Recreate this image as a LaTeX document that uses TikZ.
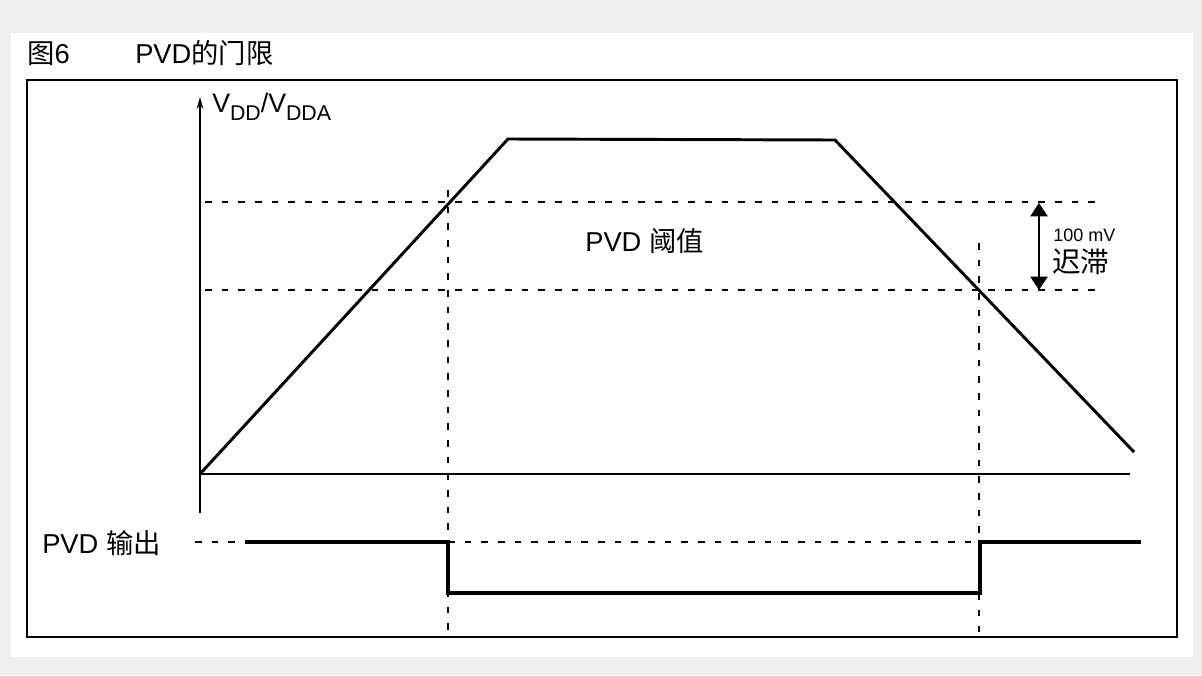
\documentclass[tikz,border=0pt]{standalone}
\usepackage{fontspec}
\setmainfont{Liberation Sans}
\newfontfamily\cjk{Noto Sans CJK SC}
\usetikzlibrary{arrows.meta}
\definecolor{bggray}{HTML}{EFEFEF}
\tikzset{
  lbl/.style={anchor=base west, inner sep=0pt, text=black},
  axisline/.style={line width=1.1pt, black},
  wave/.style={line width=2.2pt, black, line join=miter},
  outwave/.style={line width=3pt, black, line join=miter},
  guide/.style={line width=1pt, black, dash pattern=on 5pt off 7.5pt},
  frameline/.style={line width=1.1pt, black},
}
\begin{document}
\begin{tikzpicture}[x=0.75pt,y=-0.75pt]
\useasboundingbox (0,0) rectangle (1202,675);
\fill[bggray] (0,0) rectangle (1202,675);
\fill[white] (11,33) rectangle (1193,657);
% frame
\draw[frameline] (27,80) rectangle (1177,637);
% title
\node[lbl, font=\fontsize{20.5pt}{22pt}\selectfont] (t1) at (27,63) {{\cjk 图}6};
\node[lbl, font=\fontsize{20.5pt}{22pt}\selectfont] (t2) at (135,63) {PVD{\cjk 的门限}};
% axes
\coordinate (o) at (200,474);
\coordinate (ybot) at (200,513);
\coordinate (ytop) at (200,97);
\coordinate (xend) at (1130,474);
\draw[axisline, -{Stealth[length=9pt,width=5pt]}] (ybot) -- (ytop);
\draw[axisline] (o) -- (xend);
\node[lbl, font=\fontsize{20pt}{22pt}\selectfont] (vlab) at (212,112)
  {V\raisebox{-0.3em}{\fontsize{16pt}{18pt}\selectfont DD}/V\raisebox{-0.3em}{\fontsize{16pt}{18pt}\selectfont DDA}};
% thresholds
\coordinate (h1a) at (205,202); \coordinate (h1b) at (1100,202);
\coordinate (h2a) at (205,290); \coordinate (h2b) at (1100,290);
\draw[guide] (h1a) -- (h1b);
\draw[guide] (h2a) -- (h2b);
\coordinate (v1a) at (448,190); \coordinate (v1b) at (448,632);
\coordinate (v2a) at (979,243); \coordinate (v2b) at (979,632);
\draw[guide] (v1a) -- (v1b);
\draw[guide] (v2a) -- (v2b);
% supply waveform
\coordinate (p1) at (508,139);
\coordinate (p2) at (835,140);
\coordinate (p3) at (1134,452);
\draw[wave] (o) -- (p1) -- (p2) -- (p3);
\node[lbl, font=\fontsize{20.5pt}{22pt}\selectfont] (thr) at (585,251) {PVD {\cjk 阈值}};
% hysteresis
\coordinate (ha) at (1039,290); \coordinate (hb) at (1039,203);
\draw[line width=0.8pt, {Triangle[length=10pt,width=13pt]}-{Triangle[length=10pt,width=13pt]}] (ha) -- (hb);
\node[lbl, font=\fontsize{13.5pt}{15pt}\selectfont] (hmv) at (1053,241) {100 mV};
\node[lbl, font=\fontsize{21.5pt}{23pt}\selectfont] (hzh) at (1052,272) {\cjk 迟滞};
% output
\node[lbl, font=\fontsize{20.5pt}{22pt}\selectfont] (olab) at (42,553) {PVD {\cjk 输出}};
\coordinate (q0) at (195,542); \coordinate (q1) at (245,542);
\coordinate (q2) at (448,542); \coordinate (q3) at (448,593);
\coordinate (q4) at (980,593); \coordinate (q5) at (980,542);
\coordinate (q6) at (1141,542);
\draw[guide] (q0) -- (q1);
\draw[guide] (q2) -- (q5);
\draw[outwave] (q1) -- (q2) -- (q3) -- (q4) -- (q5) -- (q6);
\end{tikzpicture}
\end{document}
